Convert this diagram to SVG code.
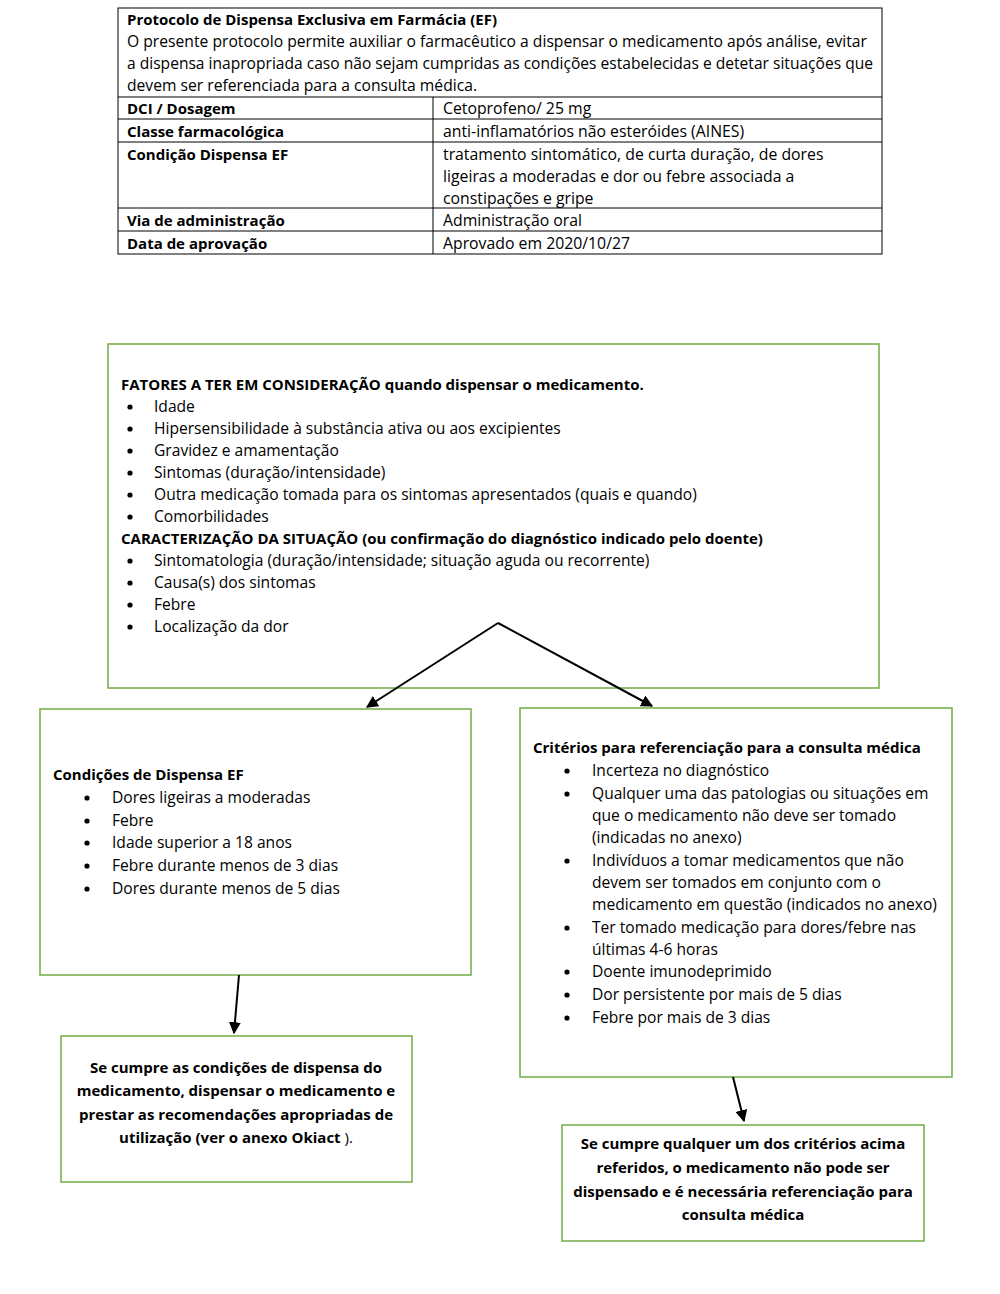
<svg xmlns="http://www.w3.org/2000/svg" width="1000" height="1294" viewBox="0 0 1000 1294">
<defs>
<style>
text{font-family:"Open Sans","Noto Sans","Liberation Sans",sans-serif;font-size:15.6px;fill:#000}
.b{font-weight:bold;font-size:15px}
.tr{font-size:15.8px}
.c{text-anchor:middle}
.box{fill:#fff;stroke:#70AD47;stroke-width:1.5}
.tb{fill:none;stroke:#000;stroke-width:1}
.ln{stroke:#000;stroke-width:2;fill:none;marker-end:url(#ah)}
.dot{fill:#000}
</style>
<marker id="ah" viewBox="0 0 10 10" refX="9" refY="5" markerWidth="6" markerHeight="6" orient="auto" markerUnits="strokeWidth">
<path d="M0,0 L10,5 L0,10 z" fill="#000"/>
</marker>
</defs>
<rect width="1000" height="1294" fill="#fff"/>

<g id="table">
<rect class="tb" x="118" y="8" width="764" height="246"/>
<line class="tb" x1="118" y1="97" x2="882" y2="97"/>
<line class="tb" x1="118" y1="119" x2="882" y2="119"/>
<line class="tb" x1="118" y1="142" x2="882" y2="142"/>
<line class="tb" x1="118" y1="208" x2="882" y2="208"/>
<line class="tb" x1="118" y1="231" x2="882" y2="231"/>
<line class="tb" x1="433" y1="97" x2="433" y2="254"/>
<text class="b" x="127" y="25" textLength="370" lengthAdjust="spacingAndGlyphs">Protocolo de Dispensa Exclusiva em Farmácia (EF)</text>
<text class="tr" x="127" y="47" textLength="740" lengthAdjust="spacingAndGlyphs">O presente protocolo permite auxiliar o farmacêutico a dispensar o medicamento após análise, evitar</text>
<text class="tr" x="127" y="69" textLength="746" lengthAdjust="spacingAndGlyphs">a dispensa inapropriada caso não sejam cumpridas as condições estabelecidas e detetar situações que</text>
<text class="tr" x="127" y="91" textLength="350" lengthAdjust="spacingAndGlyphs">devem ser referenciada para a consulta médica.</text>
<text class="b" x="127" y="114">DCI / Dosagem</text>
<text class="tr" x="443" y="114">Cetoprofeno/ 25 mg</text>
<text class="b" x="127" y="137">Classe farmacológica</text>
<text class="tr" x="443" y="137">anti-inflamatórios não esteróides (AINES)</text>
<text class="b" x="127" y="160">Condição Dispensa EF</text>
<text class="tr" x="443" y="160">tratamento sintomático, de curta duração, de dores</text>
<text class="tr" x="443" y="182">ligeiras a moderadas e dor ou febre associada a</text>
<text class="tr" x="443" y="204">constipações e gripe</text>
<text class="b" x="127" y="226">Via de administração</text>
<text class="tr" x="443" y="226">Administração oral</text>
<text class="b" x="127" y="249">Data de aprovação</text>
<text class="tr" x="443" y="249">Aprovado em 2020/10/27</text>
</g>

<g id="fatores">
<rect class="box" x="108" y="344" width="771" height="344"/>
<text class="b" x="121" y="390">FATORES A TER EM CONSIDERAÇÃO quando dispensar o medicamento.</text>
<circle class="dot" cx="130" cy="407" r="2.6"/><text x="154" y="412">Idade</text>
<circle class="dot" cx="130" cy="429" r="2.6"/><text x="154" y="434">Hipersensibilidade à substância ativa ou aos excipientes</text>
<circle class="dot" cx="130" cy="451" r="2.6"/><text x="154" y="456">Gravidez e amamentação</text>
<circle class="dot" cx="130" cy="473" r="2.6"/><text x="154" y="478">Sintomas (duração/intensidade)</text>
<circle class="dot" cx="130" cy="495" r="2.6"/><text x="154" y="500">Outra medicação tomada para os sintomas apresentados (quais e quando)</text>
<circle class="dot" cx="130" cy="517" r="2.6"/><text x="154" y="522">Comorbilidades</text>
<text class="b" x="121" y="544">CARACTERIZAÇÃO DA SITUAÇÃO (ou confirmação do diagnóstico indicado pelo doente)</text>
<circle class="dot" cx="130" cy="561" r="2.6"/><text x="154" y="566">Sintomatologia (duração/intensidade; situação aguda ou recorrente)</text>
<circle class="dot" cx="130" cy="583" r="2.6"/><text x="154" y="588">Causa(s) dos sintomas</text>
<circle class="dot" cx="130" cy="605" r="2.6"/><text x="154" y="610">Febre</text>
<circle class="dot" cx="130" cy="627" r="2.6"/><text x="154" y="632">Localização da dor</text>
</g>

<g id="condicoes">
<rect class="box" x="40" y="709" width="431" height="266"/>
<text class="b" x="53" y="780">Condições de Dispensa EF</text>
<circle class="dot" cx="87" cy="798" r="2.6"/><text x="112" y="803">Dores ligeiras a moderadas</text>
<circle class="dot" cx="87" cy="821" r="2.6"/><text x="112" y="826">Febre</text>
<circle class="dot" cx="87" cy="843" r="2.6"/><text x="112" y="848">Idade superior a 18 anos</text>
<circle class="dot" cx="87" cy="866" r="2.6"/><text x="112" y="871">Febre durante menos de 3 dias</text>
<circle class="dot" cx="87" cy="889" r="2.6"/><text x="112" y="894">Dores durante menos de 5 dias</text>
</g>

<g id="criterios">
<rect class="box" x="520" y="708" width="432" height="369"/>
<text class="b" x="533" y="753">Critérios para referenciação para a consulta médica</text>
<circle class="dot" cx="567" cy="771" r="2.6"/><text x="592" y="776">Incerteza no diagnóstico</text>
<circle class="dot" cx="567" cy="794" r="2.6"/><text x="592" y="799">Qualquer uma das patologias ou situações em</text>
<text x="592" y="821">que o medicamento não deve ser tomado</text>
<text x="592" y="843">(indicadas no anexo)</text>
<circle class="dot" cx="567" cy="861" r="2.6"/><text x="592" y="866">Indivíduos a tomar medicamentos que não</text>
<text x="592" y="888">devem ser tomados em conjunto com o</text>
<text x="592" y="910">medicamento em questão (indicados no anexo)</text>
<circle class="dot" cx="567" cy="928" r="2.6"/><text x="592" y="933">Ter tomado medicação para dores/febre nas</text>
<text x="592" y="955">últimas 4-6 horas</text>
<circle class="dot" cx="567" cy="972" r="2.6"/><text x="592" y="977">Doente imunodeprimido</text>
<circle class="dot" cx="567" cy="995" r="2.6"/><text x="592" y="1000">Dor persistente por mais de 5 dias</text>
<circle class="dot" cx="567" cy="1018" r="2.6"/><text x="592" y="1023">Febre por mais de 3 dias</text>
</g>

<g id="dispensar">
<rect class="box" x="61" y="1036" width="351" height="146"/>
<text class="b c" x="236" y="1073">Se cumpre as condições de dispensa do</text>
<text class="b c" x="236" y="1096">medicamento, dispensar o medicamento e</text>
<text class="b c" x="236" y="1120">prestar as recomendações apropriadas de</text>
<text class="b c" x="236" y="1143">utilização (ver o anexo Okiact <tspan font-weight="normal">).</tspan></text>
</g>

<g id="referenciar">
<rect class="box" x="562" y="1125" width="362" height="116"/>
<text class="b c" x="743" y="1149">Se cumpre qualquer um dos critérios acima</text>
<text class="b c" x="743" y="1173">referidos, o medicamento não pode ser</text>
<text class="b c" x="743" y="1197">dispensado e é necessária referenciação para</text>
<text class="b c" x="743" y="1220">consulta médica</text>
</g>

<g id="connectors">
<line class="ln" x1="498" y1="623" x2="367" y2="707"/>
<line class="ln" x1="498" y1="623" x2="652" y2="706"/>
<line class="ln" x1="239" y1="975" x2="234" y2="1033"/>
<line class="ln" x1="733" y1="1077" x2="744" y2="1121"/>
</g>
</svg>
